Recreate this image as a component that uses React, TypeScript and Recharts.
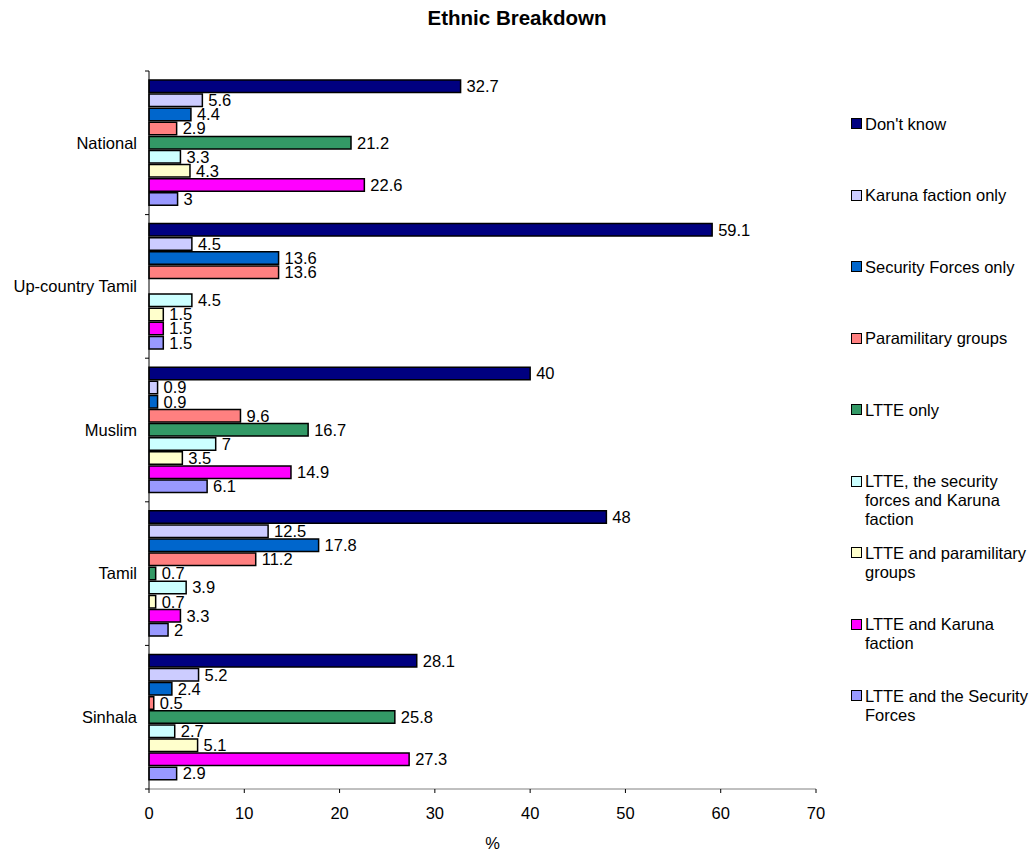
import React from "react";
import { BarChart, Bar, XAxis, YAxis, LabelList } from "recharts";

const categories = ["National", "Up-country Tamil", "Muslim", "Tamil", "Sinhala"];

const seriesNames = [
  "Don't know",
  "Karuna faction only",
  "Security Forces only",
  "Paramilitary groups",
  "LTTE only",
  "LTTE, the security forces and Karuna faction",
  "LTTE and paramilitary groups",
  "LTTE and Karuna faction",
  "LTTE and the Security Forces",
];

const seriesColors = [
  "#000080",
  "#CCCCFF",
  "#0066CC",
  "#FF8080",
  "#339966",
  "#CCFFFF",
  "#FFFFCC",
  "#FF00FF",
  "#9999FF",
];

// one array per series, in category order
const dontKnow = [32.7, 59.1, 40, 48, 28.1];
const karunaOnly = [5.6, 4.5, 0.9, 12.5, 5.2];
const securityOnly = [4.4, 13.6, 0.9, 17.8, 2.4];
const paramilitary = [2.9, 13.6, 9.6, 11.2, 0.5];
const ltteOnly = [21.2, 0, 16.7, 0.7, 25.8];
const ltteSfKaruna = [3.3, 4.5, 7, 3.9, 2.7];
const ltteParamilitary = [4.3, 1.5, 3.5, 0.7, 5.1];
const ltteKaruna = [22.6, 1.5, 14.9, 3.3, 27.3];
const ltteSf = [3, 1.5, 6.1, 2, 2.9];

const seriesValues = [
  dontKnow,
  karunaOnly,
  securityOnly,
  paramilitary,
  ltteOnly,
  ltteSfKaruna,
  ltteParamilitary,
  ltteKaruna,
  ltteSf,
];

const xTicks = [0, 10, 20, 30, 40, 50, 60, 70];

const data = categories.map((name, i) => {
  const row: Record<string, string | number> = { name };
  seriesValues.forEach((vals, s) => {
    row[`s${s}`] = vals[i];
  });
  return row;
});

const FONT = '"Liberation Sans", Arial, sans-serif';
const FS = 16.5;
const W = 1036;
const H = 852;
const PLOT_LEFT = 149;
const PLOT_TOP = 71;
const PLOT_BOTTOM = 789;
const BAND = (PLOT_BOTTOM - PLOT_TOP) / categories.length;

const CategoryTick = (props: any) => {
  const { y, payload } = props;
  const last = payload.value === categories[categories.length - 1];
  return (
    <g>
      <line x1={PLOT_LEFT - 4} x2={PLOT_LEFT} y1={y - BAND / 2} y2={y - BAND / 2} stroke="#000" />
      {last && <line x1={PLOT_LEFT - 4} x2={PLOT_LEFT} y1={y + BAND / 2} y2={y + BAND / 2} stroke="#000" />}
      <text x={PLOT_LEFT - 12} y={y} dy="0.355em" textAnchor="end" fontSize={FS} fontFamily={FONT} fill="#000">
        {payload.value}
      </text>
    </g>
  );
};

const LEGEND_TOP = 124;
const LEGEND_STEP = 71.5;

const App: React.FC = () => (
  <div style={{ position: "absolute", left: 0, top: 0, width: W, height: H, overflow: "hidden", background: "#fff", fontFamily: FONT }}>
    <div style={{ position: "absolute", left: 0, width: W - 2, top: 6, textAlign: "center", fontWeight: "bold", fontSize: 20.5, lineHeight: "24px" }}>
      Ethnic Breakdown
    </div>
    <BarChart
      width={W}
      height={H}
      data={data}
      layout="vertical"
      margin={{ top: PLOT_TOP, right: W - 816, bottom: 0, left: 0 }}
      barSize={12.5}
      barGap={1.6}
    >
      <XAxis
        type="number"
        domain={[0, 70]}
        ticks={xTicks}
        height={H - PLOT_BOTTOM}
        tickSize={4}
        tickMargin={14}
        axisLine={{ stroke: "#808080" }}
        tickLine={{ stroke: "#000" }}
        tick={{ fill: "#000", fontSize: FS, fontFamily: FONT }}
        label={{ value: "%", position: "insideBottom", offset: 3, dx: 10, fill: "#000", fontSize: FS, fontFamily: FONT }}
      />
      <YAxis
        type="category"
        dataKey="name"
        width={PLOT_LEFT}
        axisLine={{ stroke: "#000" }}
        tickLine={false}
        tick={<CategoryTick />}
      />
      {seriesNames.map((n, s) => (
        <Bar key={n} dataKey={`s${s}`} name={n} fill={seriesColors[s]} stroke="#000" strokeWidth={1.5} isAnimationActive={false}>
          <LabelList dataKey={`s${s}`} position="right" offset={6} fill="#000" fontSize={FS} fontFamily={FONT} />
        </Bar>
      ))}
    </BarChart>
    {seriesNames.map((n, s) => (
      <div
        key={n}
        style={{ position: "absolute", left: 851, top: LEGEND_TOP + s * LEGEND_STEP - 9.5, width: 185, display: "flex", alignItems: "flex-start" }}
      >
        <div style={{ width: 9, height: 9, marginTop: 3.5, background: seriesColors[s], border: "1.5px solid #000", flexShrink: 0 }} />
        <div style={{ marginLeft: 3, width: 170, fontSize: FS, lineHeight: "19px", color: "#000" }}>{n}</div>
      </div>
    ))}
  </div>
);

export default App;
